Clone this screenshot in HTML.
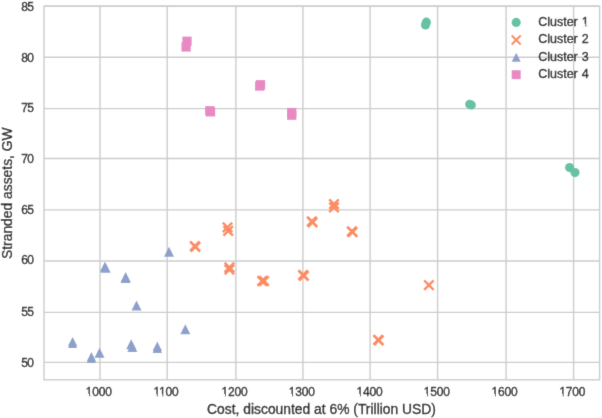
<!DOCTYPE html><html><head><meta charset="utf-8"><style>html,body{margin:0;padding:0;background:#fff;overflow:hidden}svg{display:block}text{font-family:"Liberation Sans",sans-serif;fill:#1e1e1e;stroke:#1e1e1e;stroke-width:0.35px}</style></head><body>
<svg width="602" height="418" viewBox="0 0 602 418">
<defs><filter id="bl" filterUnits="userSpaceOnUse" x="0" y="0" width="602" height="418"><feConvolveMatrix order="3" kernelMatrix="0.0100 0.0800 0.0100 0.0800 0.6400 0.0800 0.0100 0.0800 0.0100" edgeMode="duplicate"/></filter></defs>
<g filter="url(#bl)">
<rect width="602" height="418" fill="#fff"/>
<g stroke="#cccccc" stroke-width="1.4" fill="none">
<line x1="100.0" y1="6.2" x2="100.0" y2="379.8"/>
<line x1="167.2" y1="6.2" x2="167.2" y2="379.8"/>
<line x1="235.9" y1="6.2" x2="235.9" y2="379.8"/>
<line x1="302.9" y1="6.2" x2="302.9" y2="379.8"/>
<line x1="370.1" y1="6.2" x2="370.1" y2="379.8"/>
<line x1="437.6" y1="6.2" x2="437.6" y2="379.8"/>
<line x1="506.1" y1="6.2" x2="506.1" y2="379.8"/>
<line x1="573.6" y1="6.2" x2="573.6" y2="379.8"/>
<line x1="44.0" y1="6.2" x2="599.6" y2="6.2"/>
<line x1="44.0" y1="57.2" x2="599.6" y2="57.2"/>
<line x1="44.0" y1="108.6" x2="599.6" y2="108.6"/>
<line x1="44.0" y1="158.5" x2="599.6" y2="158.5"/>
<line x1="44.0" y1="209.9" x2="599.6" y2="209.9"/>
<line x1="44.0" y1="261.0" x2="599.6" y2="261.0"/>
<line x1="44.0" y1="312.4" x2="599.6" y2="312.4"/>
<line x1="44.0" y1="362.4" x2="599.6" y2="362.4"/>
<rect x="44.0" y="6.2" width="555.6" height="373.6"/>
</g>
<g font-size="12" text-anchor="middle" letter-spacing="-0.2">
<text class="one" x="98.8" y="396">1000</text>
<text class="one" x="165.9" y="396">1100</text>
<text class="one" x="234.5" y="396">1200</text>
<text class="one" x="301.7" y="396">1300</text>
<text class="one" x="369.5" y="396">1400</text>
<text class="one" x="436.7" y="396">1500</text>
<text class="one" x="504.5" y="396">1600</text>
<text class="one" x="572.3" y="396">1700</text>
</g>
<g font-size="12" text-anchor="end" letter-spacing="-0.7">
<text x="33.2" y="10.55">85</text>
<text x="33.2" y="62.05">80</text>
<text x="33.2" y="111.90">75</text>
<text x="33.2" y="162.95">70</text>
<text x="33.2" y="214.25">65</text>
<text x="33.2" y="264.15">60</text>
<text x="33.2" y="315.65">55</text>
<text x="33.2" y="366.95">50</text>
</g>
<text x="321.5" y="414.3" font-size="13.85" text-anchor="middle">Cost, discounted at 6% (Trillion USD)</text>
<text transform="translate(12.0,193.2) rotate(-90)" font-size="13.85" text-anchor="middle">Stranded assets, GW</text>
<circle cx="425.5" cy="24.9" r="4.6" fill="#66c2a5"/>
<circle cx="426.4" cy="22.2" r="4.6" fill="#66c2a5"/>
<circle cx="469.7" cy="104.3" r="4.6" fill="#66c2a5"/>
<circle cx="471.3" cy="105.0" r="4.6" fill="#66c2a5"/>
<circle cx="569.6" cy="167.6" r="4.6" fill="#66c2a5"/>
<circle cx="575.0" cy="172.6" r="4.6" fill="#66c2a5"/>
<path d="M190.05 241.35L199.55 250.85M190.05 250.85L199.55 241.35" stroke="#fc8d62" stroke-width="2.5" fill="none"/>
<path d="M190.65 242.15L200.15 251.65M190.65 251.65L200.15 242.15" stroke="#fc8d62" stroke-width="2.5" fill="none"/>
<path d="M222.75 222.65L232.25 232.15M222.75 232.15L232.25 222.65" stroke="#fc8d62" stroke-width="2.5" fill="none"/>
<path d="M223.45 226.15L232.95 235.65M223.45 235.65L232.95 226.15" stroke="#fc8d62" stroke-width="2.5" fill="none"/>
<path d="M224.65 262.55L234.15 272.05M224.65 272.05L234.15 262.55" stroke="#fc8d62" stroke-width="2.5" fill="none"/>
<path d="M224.65 264.75L234.15 274.25M224.65 274.25L234.15 264.75" stroke="#fc8d62" stroke-width="2.5" fill="none"/>
<path d="M257.45 276.25L266.95 285.75M257.45 285.75L266.95 276.25" stroke="#fc8d62" stroke-width="2.5" fill="none"/>
<path d="M259.25 276.25L268.75 285.75M259.25 285.75L268.75 276.25" stroke="#fc8d62" stroke-width="2.5" fill="none"/>
<path d="M307.05 216.65L316.55 226.15M307.05 226.15L316.55 216.65" stroke="#fc8d62" stroke-width="2.5" fill="none"/>
<path d="M307.85 217.65L317.35 227.15M307.85 227.15L317.35 217.65" stroke="#fc8d62" stroke-width="2.5" fill="none"/>
<path d="M298.35 270.25L307.85 279.75M298.35 279.75L307.85 270.25" stroke="#fc8d62" stroke-width="2.5" fill="none"/>
<path d="M299.15 271.05L308.65 280.55M299.15 280.55L308.65 271.05" stroke="#fc8d62" stroke-width="2.5" fill="none"/>
<path d="M329.25 199.35L338.75 208.85M329.25 208.85L338.75 199.35" stroke="#fc8d62" stroke-width="2.5" fill="none"/>
<path d="M329.25 202.55L338.75 212.05M329.25 212.05L338.75 202.55" stroke="#fc8d62" stroke-width="2.5" fill="none"/>
<path d="M347.05 226.65L356.55 236.15M347.05 236.15L356.55 226.65" stroke="#fc8d62" stroke-width="2.5" fill="none"/>
<path d="M347.85 227.45L357.35 236.95M347.85 236.95L357.35 227.45" stroke="#fc8d62" stroke-width="2.5" fill="none"/>
<path d="M373.35 335.05L382.85 344.55M373.35 344.55L382.85 335.05" stroke="#fc8d62" stroke-width="2.5" fill="none"/>
<path d="M374.05 335.55L383.55 345.05M374.05 345.05L383.55 335.55" stroke="#fc8d62" stroke-width="2.5" fill="none"/>
<path d="M424.15 280.45L433.65 289.95M424.15 289.95L433.65 280.45" stroke="#fc8d62" stroke-width="2.5" fill="none"/>
<path d="M72.60 336.90L77.20 346.10L68.00 346.10Z" fill="#8da0cb"/>
<path d="M72.60 338.90L77.20 348.10L68.00 348.10Z" fill="#8da0cb"/>
<path d="M91.40 352.10L96.00 361.30L86.80 361.30Z" fill="#8da0cb"/>
<path d="M91.40 353.80L96.00 363.00L86.80 363.00Z" fill="#8da0cb"/>
<path d="M99.50 347.80L104.50 357.80L94.50 357.80Z" fill="#8da0cb"/>
<path d="M104.90 261.70L109.90 271.70L99.90 271.70Z" fill="#8da0cb"/>
<path d="M105.60 262.80L110.60 272.80L100.60 272.80Z" fill="#8da0cb"/>
<path d="M125.60 272.00L130.60 282.00L120.60 282.00Z" fill="#8da0cb"/>
<path d="M125.60 273.00L130.60 283.00L120.60 283.00Z" fill="#8da0cb"/>
<path d="M136.50 300.50L141.50 310.50L131.50 310.50Z" fill="#8da0cb"/>
<path d="M131.20 339.30L136.20 349.30L126.20 349.30Z" fill="#8da0cb"/>
<path d="M132.30 342.00L137.30 352.00L127.30 352.00Z" fill="#8da0cb"/>
<path d="M157.30 341.60L162.00 351.00L152.60 351.00Z" fill="#8da0cb"/>
<path d="M157.30 343.70L162.00 353.10L152.60 353.10Z" fill="#8da0cb"/>
<path d="M169.00 246.80L174.00 256.80L164.00 256.80Z" fill="#8da0cb"/>
<path d="M185.30 324.30L190.30 334.30L180.30 334.30Z" fill="#8da0cb"/>
<rect x="182.35" y="36.60" width="9.3" height="9.3" fill="#e78ac3"/>
<rect x="181.45" y="42.30" width="9.3" height="9.3" fill="#e78ac3"/>
<rect x="205.10" y="106.10" width="9.3" height="9.3" fill="#e78ac3"/>
<rect x="205.90" y="107.20" width="9.3" height="9.3" fill="#e78ac3"/>
<rect x="255.10" y="81.40" width="9.3" height="9.3" fill="#e78ac3"/>
<rect x="255.90" y="80.10" width="9.3" height="9.3" fill="#e78ac3"/>
<rect x="287.05" y="107.85" width="9.3" height="9.3" fill="#e78ac3"/>
<rect x="287.05" y="110.55" width="9.3" height="9.3" fill="#e78ac3"/>
<circle cx="516.2" cy="22.4" r="4.6" fill="#66c2a5"/>
<path d="M511.70 35.40L520.70 44.40M511.70 44.40L520.70 35.40" stroke="#fc8d62" stroke-width="2.1" fill="none"/>
<path d="M516.20 52.80L520.70 61.80L511.70 61.80Z" fill="#8da0cb"/>
<rect x="511.70" y="70.20" width="9" height="9" fill="#e78ac3"/>
<g font-size="12.5" word-spacing="0.6">
<text class="one" x="538.2" y="25.8">Cluster 1</text>
<text class="one" x="538.2" y="43.3">Cluster 2</text>
<text class="one" x="538.2" y="60.7">Cluster 3</text>
<text class="one" x="538.2" y="78.1">Cluster 4</text>
</g>
<rect x="85.96" y="394.01" width="3.31" height="2.93" fill="#fff"/>
<rect x="90.21" y="394.01" width="2.37" height="2.93" fill="#fff"/>
<rect x="153.51" y="394.01" width="3.31" height="2.93" fill="#fff"/>
<rect x="157.76" y="394.01" width="2.37" height="2.93" fill="#fff"/>
<rect x="159.09" y="394.01" width="3.31" height="2.93" fill="#fff"/>
<rect x="163.34" y="394.01" width="2.37" height="2.93" fill="#fff"/>
<rect x="221.66" y="394.01" width="3.31" height="2.93" fill="#fff"/>
<rect x="225.91" y="394.01" width="2.37" height="2.93" fill="#fff"/>
<rect x="288.86" y="394.01" width="3.31" height="2.93" fill="#fff"/>
<rect x="293.11" y="394.01" width="2.37" height="2.93" fill="#fff"/>
<rect x="356.66" y="394.01" width="3.31" height="2.93" fill="#fff"/>
<rect x="360.91" y="394.01" width="2.37" height="2.93" fill="#fff"/>
<rect x="423.86" y="394.01" width="3.31" height="2.93" fill="#fff"/>
<rect x="428.11" y="394.01" width="2.37" height="2.93" fill="#fff"/>
<rect x="491.66" y="394.01" width="3.31" height="2.93" fill="#fff"/>
<rect x="495.91" y="394.01" width="2.37" height="2.93" fill="#fff"/>
<rect x="559.46" y="394.01" width="3.31" height="2.93" fill="#fff"/>
<rect x="563.71" y="394.01" width="2.37" height="2.93" fill="#fff"/>
<rect x="581.98" y="23.72" width="3.45" height="3.05" fill="#fff"/>
<rect x="586.40" y="23.72" width="2.47" height="3.05" fill="#fff"/>
</g></svg></body></html>
